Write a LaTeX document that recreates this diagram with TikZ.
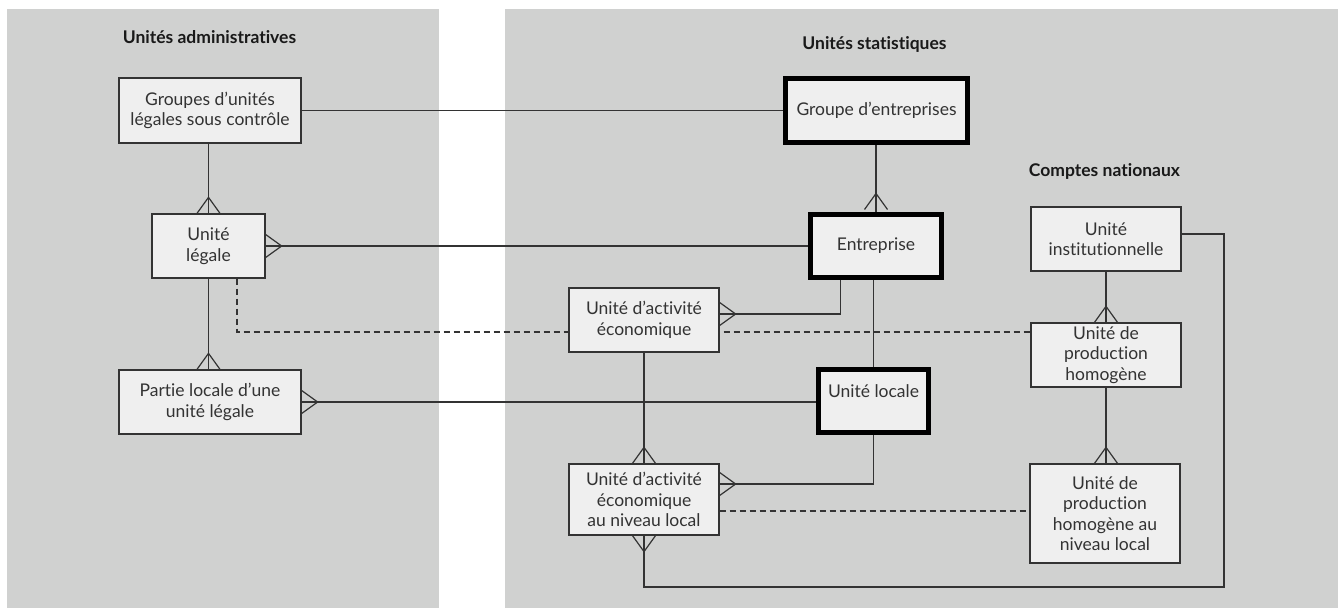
\documentclass[tikz,border=0pt]{standalone}
\usepackage{fontspec}
\setmainfont{Lato}[Ligatures={NoCommon}]
\usetikzlibrary{calc}
\definecolor{panel}{HTML}{D0D1D0}
\definecolor{boxfill}{HTML}{EFEFEF}
\definecolor{ink}{HTML}{333333}
\pgfdeclarelayer{back}
\pgfdeclarelayer{conn}
\pgfsetlayers{back,conn,main}
\begin{document}
\begin{tikzpicture}[x=1pt,y=-1pt,
  unit/.style={draw=ink,fill=boxfill,line width=1.3pt,inner sep=0pt,align=center,
    font=\fontsize{17.5}{20.5}\selectfont,text=ink},
  keyunit/.style={unit,line width=5pt,draw=black},
  title/.style={font=\fontsize{17.5}{20}\selectfont\bfseries,text=black!90},
  link/.style={draw=ink,line width=1.2pt},
  weak/.style={link,dash pattern=on 6pt off 4pt},
  crowfoot/.pic={\draw[link] (-11.5,0) -- (0,-16) -- (11.5,0);}
]
\useasboundingbox (0,0) rectangle (1344,608);
\begin{pgfonlayer}{back}
\fill[panel] (7,9) rectangle (439,608);
\fill[panel] (505,9) rectangle (1338,608);
\end{pgfonlayer}

% titles
\node[title] (tadm) at (209.5,37) {Unités administratives};
\node[title] (tstat) at (874.5,44) {Unités statistiques};
\node[title] (tcn) at (1104.5,171) {Comptes nationaux};

% boxes
\node[unit,minimum width=182pt,minimum height=65pt] (gul) at (210,110.5) {Groupes d’unités\\légales sous contrôle};
\node[unit,minimum width=113pt,minimum height=64pt] (ul) at (208.5,246) {Unité\\légale};
\node[unit,minimum width=182pt,minimum height=64pt] (pl) at (210,402) {Partie locale d’une\\unité légale};
\node[keyunit,minimum width=182pt,minimum height=64pt] (ge) at (876.5,110.5) {Groupe d’entreprises};
\node[keyunit,minimum width=131pt,minimum height=63pt] (ent) at (876,246) {Entreprise};
\node[unit,minimum width=150pt,minimum height=64pt] (uae) at (644,320) {Unité d’activité\\économique};
\node[keyunit,minimum width=110pt,minimum height=63pt] (uloc) at (873.5,401) {Unité locale\\\mbox{}};
\node[unit,minimum width=150pt,minimum height=71pt] (uael) at (644,499.5) {Unité d’activité\\économique\\au niveau local};
\node[unit,minimum width=150pt,minimum height=64pt] (ui) at (1106,239) {Unité\\institutionnelle};
\node[unit,minimum width=150pt,minimum height=64pt] (uph) at (1106,355) {Unité de\\production\\homogène};
\node[unit,minimum width=150pt,minimum height=99pt] (uphl) at (1105,513.5) {Unité de\\production\\homogène au\\niveau local};

\coordinate (dl) at (237,332);
\coordinate (eb) at (840.7,314);
\coordinate (lb) at (873.5,484);
\coordinate (dl2) at (700,511);
\coordinate (b2) at (1224,587);
\coordinate (b3) at (1224,234);

\begin{pgfonlayer}{conn}
\draw[link] (gul.east) -- (gul.east -| ge.west);
\draw[link] (gul.south -| ul.north) -- (ul.north);
\draw[link] (ul.east) -- (ul.east -| ent.west);
\draw[link] (ul.south) -- (ul.south |- pl.north);
\draw[weak] (ul.south -| dl) -- (dl) -- (dl -| uph.west);
\draw[link] (pl.east) -- (pl.east -| uloc.west);
\draw[link] (ge.south -| ent.north) -- (ent.north);
\draw[link] (ent.south -| eb) -- (eb) -- (eb -| uae.east);
\draw[link] (ent.south -| uloc.north) -- (uloc.north);
\draw[link] (uae.south) -- (uae.south |- uael.north);
\draw[link] (lb -| uael.east) -- (lb) -- (uloc.south);
\draw[weak] (uael.east |- dl2) -- (uphl.west |- dl2);
\draw[link] (uael.south) -- (uael.south |- b2) -- (b2) -- (b3) -- (b3 -| ui.east);
\draw[link] (ui.south) -- (ui.south |- uph.north);
\draw[link] (uph.south) -- (uph.south |- uphl.north);

% crow's feet
\path (ul.north) pic {crowfoot};
\path (ul.east) pic[rotate=-90] {crowfoot};
\path (ul.south |- pl.north) pic {crowfoot};
\path (pl.east) pic[rotate=-90] {crowfoot};
\path ($(ent.north)+(0,-2.5)$) pic {crowfoot};
\path (eb -| uae.east) pic[rotate=-90] {crowfoot};
\path (uae.south |- uael.north) pic {crowfoot};
\path (lb -| uael.east) pic[rotate=-90] {crowfoot};
\path (uael.south) pic[rotate=180] {crowfoot};
\path (uph.north) pic {crowfoot};
\path (uph.south |- uphl.north) pic {crowfoot};
\end{pgfonlayer}
\end{tikzpicture}
\end{document}
